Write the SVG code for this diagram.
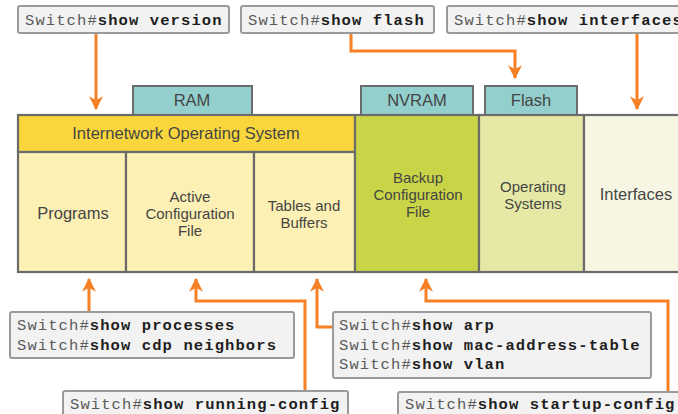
<svg xmlns="http://www.w3.org/2000/svg" width="678" height="414" viewBox="0 0 678 414">
  <style>
    .cmd { fill: #f2f2f2; stroke: #9a9a9a; stroke-width: 2; }
    .mono { font-family: "Liberation Mono", "Courier New", monospace; font-size: 15.5px; letter-spacing: 1.1px; }
    .pre { fill: #5a5a5a; }
    .kw { fill: #1e1e1e; font-weight: bold; }
    .cell { stroke: #6b6b6b; stroke-width: 2.2; }
    .mem { fill: #93cfcc; stroke: #6b6b6b; stroke-width: 2; }
    .lbl { font-family: "Liberation Sans", Arial, sans-serif; font-size: 16.5px; fill: #454545; text-anchor: middle; }
    .ml { font-size: 15px; }
    .wire { fill: none; stroke: #f58025; stroke-width: 3; }
  </style>
  <defs>
    <marker id="ah" viewBox="0 0 12 12" refX="11" refY="6" markerWidth="14" markerHeight="14" markerUnits="userSpaceOnUse" orient="auto">
      <path d="M0,0 L12,6 L0,12 L3.5,6 z" fill="#f58025"/>
    </marker>
  </defs>

  <rect width="678" height="414" fill="#ffffff"/>

  <!-- memory tabs -->
  <g id="ram">
    <rect class="mem" x="133" y="86" width="119" height="30"/>
    <text class="lbl" x="192" y="106" font-size="16">RAM</text>
  </g>
  <g id="nvram">
    <rect class="mem" x="361" y="86" width="112" height="30"/>
    <text class="lbl" x="417" y="106" font-size="16">NVRAM</text>
  </g>
  <g id="flash">
    <rect class="mem" x="485" y="86" width="92" height="30"/>
    <text class="lbl" x="531" y="106" font-size="16">Flash</text>
  </g>

  <!-- device block -->
  <g id="ios">
    <rect class="cell" x="18" y="115" width="337" height="37" fill="#f9d73c"/>
    <text class="lbl" x="186" y="139">Internetwork Operating System</text>
  </g>
  <g id="programs">
    <rect class="cell" x="18" y="152" width="108" height="120" fill="#fdf0b4"/>
    <text class="lbl" x="73" y="219">Programs</text>
  </g>
  <g id="active-config">
    <rect class="cell" x="126" y="152" width="128" height="120" fill="#fdf0b4"/>
    <text class="lbl ml" x="190" y="202">Active</text>
    <text class="lbl ml" x="190" y="219">Configuration</text>
    <text class="lbl ml" x="190" y="236">File</text>
  </g>
  <g id="tables">
    <rect class="cell" x="254" y="152" width="101" height="120" fill="#fdf0b4"/>
    <text class="lbl ml" x="304" y="211">Tables and</text>
    <text class="lbl ml" x="304" y="228">Buffers</text>
  </g>
  <g id="backup-config">
    <rect class="cell" x="355" y="115" width="124" height="157" fill="#c9d546"/>
    <text class="lbl ml" x="418" y="183">Backup</text>
    <text class="lbl ml" x="418" y="200">Configuration</text>
    <text class="lbl ml" x="418" y="217">File</text>
  </g>
  <g id="os">
    <rect class="cell" x="479" y="115" width="105" height="157" fill="#e6e9a6"/>
    <text class="lbl ml" x="533" y="192">Operating</text>
    <text class="lbl ml" x="533" y="209">Systems</text>
  </g>
  <g id="interfaces">
    <rect class="cell" x="584" y="115" width="100" height="157" fill="#f7f6e3"/>
    <text class="lbl" x="636" y="200">Interfaces</text>
  </g>

  <!-- connectors -->
  <g id="connectors">
    <path class="wire" d="M96,33 V109" marker-end="url(#ah)"/>
    <path class="wire" d="M351,33 V51 H515 V78" marker-end="url(#ah)"/>
    <path class="wire" d="M637,33 V109" marker-end="url(#ah)"/>
    <path class="wire" d="M89,312 V279" marker-end="url(#ah)"/>
    <path class="wire" d="M305,391 V301 H196 V279" marker-end="url(#ah)"/>
    <path class="wire" d="M333,327 H317 V279" marker-end="url(#ah)"/>
    <path class="wire" d="M668,392 V301 H426 V279" marker-end="url(#ah)"/>
  </g>

  <!-- command boxes -->
  <g id="cmd-version">
    <rect class="cmd" x="18" y="6" width="211" height="27" rx="2"/>
    <text class="mono" x="25" y="25"><tspan class="pre">Switch#</tspan><tspan class="kw">show version</tspan></text>
  </g>
  <g id="cmd-flash">
    <rect class="cmd" x="241" y="6" width="193" height="27" rx="2"/>
    <text class="mono" x="248" y="25"><tspan class="pre">Switch#</tspan><tspan class="kw">show flash</tspan></text>
  </g>
  <g id="cmd-interfaces">
    <rect class="cmd" x="447" y="6" width="240" height="27" rx="2"/>
    <text class="mono" x="454" y="25"><tspan class="pre">Switch#</tspan><tspan class="kw">show interfaces</tspan></text>
  </g>
  <g id="cmd-processes">
    <rect class="cmd" x="10" y="312" width="284" height="46" rx="2"/>
    <text class="mono" x="17" y="330"><tspan class="pre">Switch#</tspan><tspan class="kw">show processes</tspan></text>
    <text class="mono" x="17" y="350"><tspan class="pre">Switch#</tspan><tspan class="kw">show cdp neighbors</tspan></text>
  </g>
  <g id="cmd-arp">
    <rect class="cmd" x="333" y="312" width="318" height="66" rx="2"/>
    <text class="mono" x="339" y="330"><tspan class="pre">Switch#</tspan><tspan class="kw">show arp</tspan></text>
    <text class="mono" x="339" y="350"><tspan class="pre">Switch#</tspan><tspan class="kw">show mac-address-table</tspan></text>
    <text class="mono" x="339" y="369"><tspan class="pre">Switch#</tspan><tspan class="kw">show vlan</tspan></text>
  </g>
  <g id="cmd-running">
    <rect class="cmd" x="63" y="391" width="285" height="30" rx="2"/>
    <text class="mono" x="70" y="409"><tspan class="pre">Switch#</tspan><tspan class="kw">show running-config</tspan></text>
  </g>
  <g id="cmd-startup">
    <rect class="cmd" x="398" y="392" width="290" height="30" rx="2"/>
    <text class="mono" x="405" y="409"><tspan class="pre">Switch#</tspan><tspan class="kw">show startup-config</tspan></text>
  </g>
</svg>
